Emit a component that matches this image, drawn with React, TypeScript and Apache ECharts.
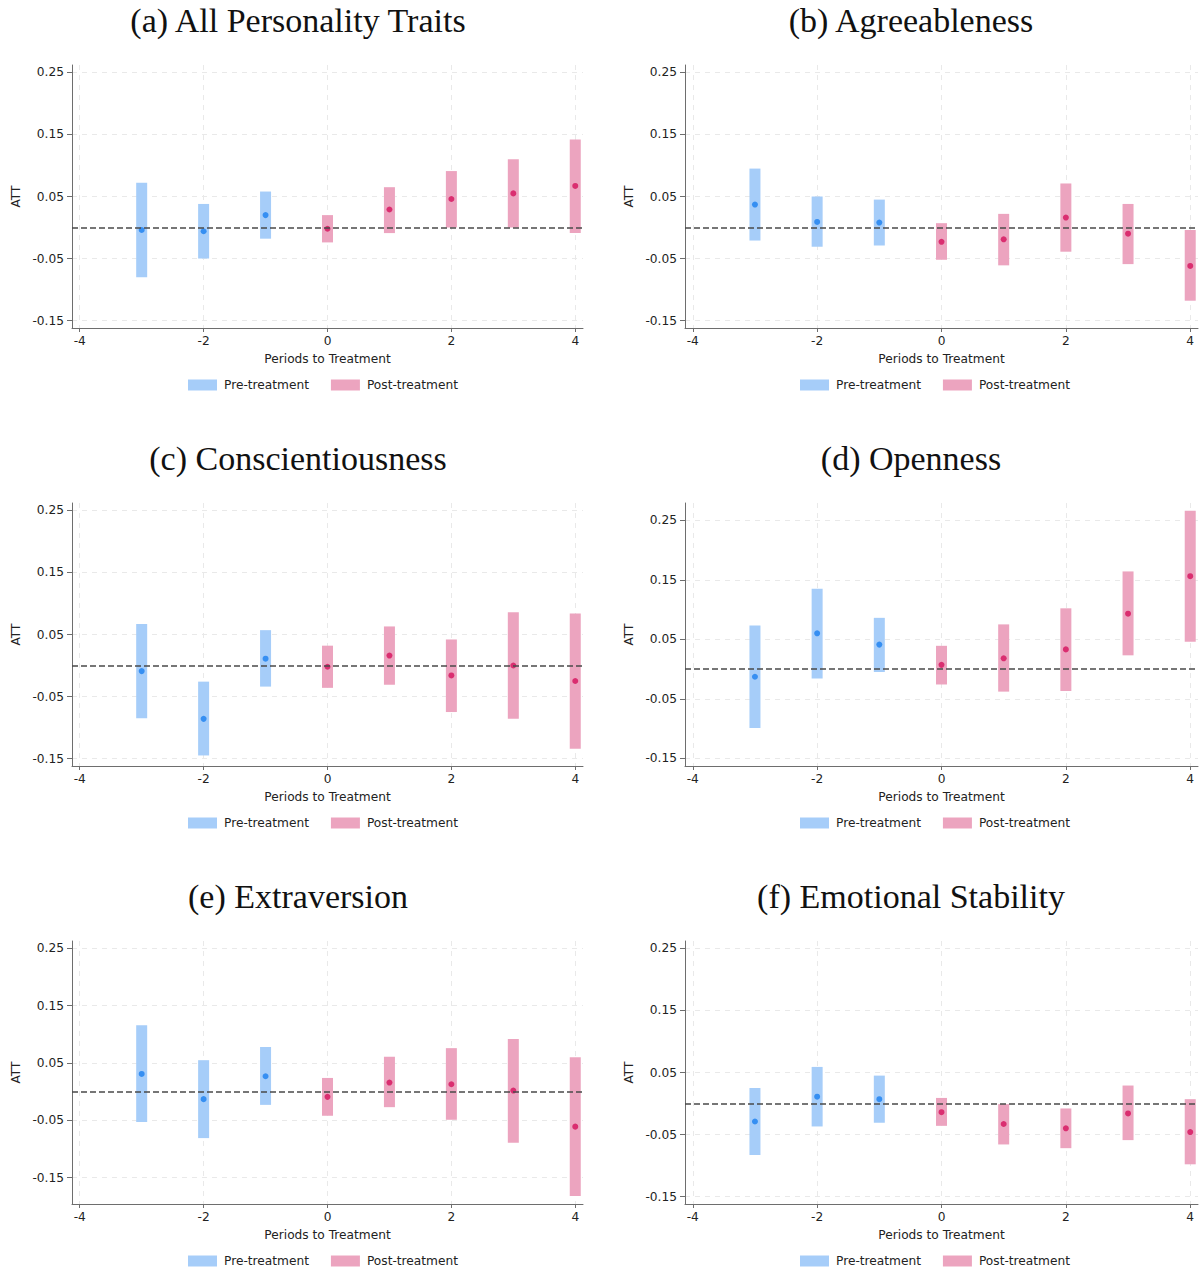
import React, { useEffect, useRef } from "react";
import * as echarts from "echarts";

// ---------- data ----------
const periods = [-3, -2, -1, 0, 1, 2, 3, 4];

const titles = [
  "(a) All Personality Traits",
  "(b) Agreeableness",
  "(c) Conscientiousness",
  "(d) Openness",
  "(e) Extraversion",
  "(f) Emotional Stability",
];

const estA = [-0.004, -0.006, 0.02, -0.002, 0.029, 0.046, 0.055, 0.067];
const loA = [-0.08, -0.05, -0.018, -0.024, -0.009, 0.0, 0.0, -0.009];
const hiA = [0.072, 0.038, 0.058, 0.02, 0.065, 0.091, 0.11, 0.142];

const estB = [0.037, 0.009, 0.008, -0.023, -0.019, 0.016, -0.01, -0.062];
const loB = [-0.021, -0.031, -0.029, -0.052, -0.061, -0.039, -0.059, -0.118];
const hiB = [0.095, 0.05, 0.045, 0.007, 0.022, 0.071, 0.038, -0.004];

const estC = [-0.009, -0.086, 0.011, -0.002, 0.016, -0.016, 0.0, -0.025];
const loC = [-0.085, -0.145, -0.034, -0.036, -0.031, -0.075, -0.086, -0.134];
const hiC = [0.067, -0.026, 0.057, 0.032, 0.063, 0.042, 0.086, 0.084];

const estD = [-0.013, 0.06, 0.041, 0.007, 0.018, 0.033, 0.093, 0.156];
const loD = [-0.099, -0.016, -0.005, -0.026, -0.038, -0.037, 0.023, 0.046];
const hiD = [0.073, 0.135, 0.086, 0.039, 0.075, 0.102, 0.164, 0.266];

const estE = [0.031, -0.013, 0.027, -0.009, 0.016, 0.013, 0.002, -0.061];
const loE = [-0.053, -0.081, -0.023, -0.042, -0.027, -0.049, -0.089, -0.182];
const hiE = [0.116, 0.055, 0.078, 0.024, 0.061, 0.076, 0.092, 0.06];

const estF = [-0.029, 0.011, 0.007, -0.014, -0.033, -0.04, -0.016, -0.046];
const loF = [-0.083, -0.037, -0.031, -0.036, -0.066, -0.072, -0.059, -0.098];
const hiF = [0.025, 0.059, 0.045, 0.009, -0.001, -0.008, 0.029, 0.007];

const estimates = [estA, estB, estC, estD, estE, estF];
const lowers = [loA, loB, loC, loD, loE, loF];
const uppers = [hiA, hiB, hiC, hiD, hiE, hiF];

const yMins = [-0.162, -0.162, -0.162, -0.163, -0.196, -0.162];
const yMaxs = [0.262, 0.262, 0.262, 0.279, 0.263, 0.262];

const yTicks = [-0.15, -0.05, 0.05, 0.15, 0.25];
const xTicks = [-4, -2, 0, 2, 4];

// ---------- styles ----------
const PRE_BAR = "#a6cdf9";
const POST_BAR = "#eca4bf";
const PRE_DOT = "#1a7ff0";
const POST_DOT = "#d6105c";
const AXIS = "#6e6e6e";
const GRID = "#e9e9e9";
const TXT = "#222222";
const SANS = "DejaVu Sans";

const rowTops = [65, 503, 941];
const rowLegendTops = [379, 817, 1255];

export default function App() {
  const ref = useRef<HTMLDivElement>(null);

  useEffect(() => {
    document.body.style.margin = "0";
    if (!ref.current) return;
    const chart = echarts.init(ref.current, null, { renderer: "svg" });

    const grids: any[] = [];
    const xAxes: any[] = [];
    const yAxes: any[] = [];
    const series: any[] = [];
    const legends: any[] = [];
    const graphics: any[] = [];

    const barRender = (color: string) => (params: any, api: any) => {
      const x = api.value(0);
      const lo = api.value(1);
      const hi = api.value(2);
      const top = api.coord([x, hi]);
      const bot = api.coord([x, lo]);
      return {
        type: "rect",
        shape: { x: top[0] - 5.5, y: top[1], width: 11, height: bot[1] - top[1] },
        style: { fill: color },
      };
    };

    const legendBase = {
      padding: 0,
      itemWidth: 29,
      itemHeight: 11,
      itemGap: 22,
      selectedMode: false,
      textStyle: { color: TXT, fontFamily: SANS, fontSize: 12.2, padding: [0, 0, 0, 2] },
      data: [
        { name: "Pre-treatment", icon: "rect", itemStyle: { color: PRE_BAR } },
        { name: "Post-treatment", icon: "rect", itemStyle: { color: POST_BAR } },
      ],
    };

    titles.forEach((title, i) => {
      const col = i % 2;
      const row = Math.floor(i / 2);
      grids.push({
        left: col ? 685 : 72,
        top: rowTops[row],
        width: col ? 513 : 511,
        height: 263,
      });
      xAxes.push({
        type: "value",
        gridIndex: i,
        min: -4.125,
        max: 4.125,
        axisLine: { show: true, onZero: false, lineStyle: { color: AXIS, width: 1 } },
        axisTick: { show: true, customValues: xTicks, length: 4, lineStyle: { color: AXIS } },
        axisLabel: {
          customValues: xTicks,
          color: TXT,
          fontFamily: SANS,
          fontSize: 12.2,
          margin: 7,
          formatter: (v: number) => String(v),
        },
        splitLine: { show: true, lineStyle: { color: GRID, type: [5, 5], width: 1 } },
        name: "Periods to Treatment",
        nameLocation: "middle",
        nameGap: 25,
        nameTextStyle: { color: TXT, fontFamily: SANS, fontSize: 12.2 },
      });
      yAxes.push({
        type: "value",
        gridIndex: i,
        min: yMins[i],
        max: yMaxs[i],
        axisLine: { show: true, onZero: false, lineStyle: { color: AXIS, width: 1 } },
        axisTick: { show: true, customValues: yTicks, length: 5, lineStyle: { color: AXIS } },
        axisLabel: {
          customValues: yTicks,
          color: TXT,
          fontFamily: SANS,
          fontSize: 12.2,
          margin: 8,
          formatter: (v: number) => v.toFixed(2),
        },
        splitLine: { show: true, lineStyle: { color: GRID, type: [5, 5], width: 1 } },
        name: "ATT",
        nameLocation: "middle",
        nameGap: 50,
        nameTextStyle: { color: TXT, fontFamily: SANS, fontSize: 12.2 },
      });

      const est = estimates[i];
      const lo = lowers[i];
      const hi = uppers[i];
      const preIdx = periods.map((p, k) => k).filter((k) => periods[k] < 0);
      const postIdx = periods.map((p, k) => k).filter((k) => periods[k] >= 0);

      series.push({
        type: "custom",
        name: "Pre-treatment",
        xAxisIndex: i,
        yAxisIndex: i,
        z: 2,
        itemStyle: { color: PRE_BAR },
        renderItem: barRender(PRE_BAR),
        encode: { x: 0, y: [1, 2] },
        data: preIdx.map((k) => [periods[k], lo[k], hi[k]]),
      });
      series.push({
        type: "custom",
        name: "Post-treatment",
        xAxisIndex: i,
        yAxisIndex: i,
        z: 2,
        itemStyle: { color: POST_BAR },
        renderItem: barRender(POST_BAR),
        encode: { x: 0, y: [1, 2] },
        data: postIdx.map((k) => [periods[k], lo[k], hi[k]]),
      });
      series.push({
        type: "line",
        name: "zero-" + i,
        xAxisIndex: i,
        yAxisIndex: i,
        z: 3,
        data: [],
        markLine: {
          silent: true,
          symbol: "none",
          label: { show: false },
          lineStyle: { color: "#4a4a4a", type: [6, 3], width: 1.5 },
          data: [{ yAxis: 0 }],
        },
      });
      series.push({
        type: "scatter",
        name: "Pre-treatment",
        xAxisIndex: i,
        yAxisIndex: i,
        z: 4,
        symbol: "circle",
        symbolSize: 6,
        itemStyle: { color: PRE_DOT },
        data: preIdx.map((k) => [periods[k], est[k]]),
      });
      series.push({
        type: "scatter",
        name: "Post-treatment",
        xAxisIndex: i,
        yAxisIndex: i,
        z: 4,
        symbol: "circle",
        symbolSize: 6,
        itemStyle: { color: POST_DOT },
        data: postIdx.map((k) => [periods[k], est[k]]),
      });

      if (col === 0) {
        legends.push({ ...legendBase, left: 188, top: rowLegendTops[row] });
        legends.push({ ...legendBase, left: 800, top: rowLegendTops[row] });
      }

      graphics.push({
        type: "text",
        x: col ? 911 : 298,
        y: rowTops[row] - 45,
        style: {
          text: title,
          fill: "#111111",
          font: "34px 'Liberation Serif'",
          textAlign: "center",
          textVerticalAlign: "middle",
        },
      });
    });

    chart.setOption({
      animation: false,
      backgroundColor: "#ffffff",
      grid: grids,
      xAxis: xAxes,
      yAxis: yAxes,
      legend: legends,
      series,
      graphic: graphics,
    });

    return () => chart.dispose();
  }, []);

  return <div ref={ref} style={{ width: 1199, height: 1272 }} />;
}
